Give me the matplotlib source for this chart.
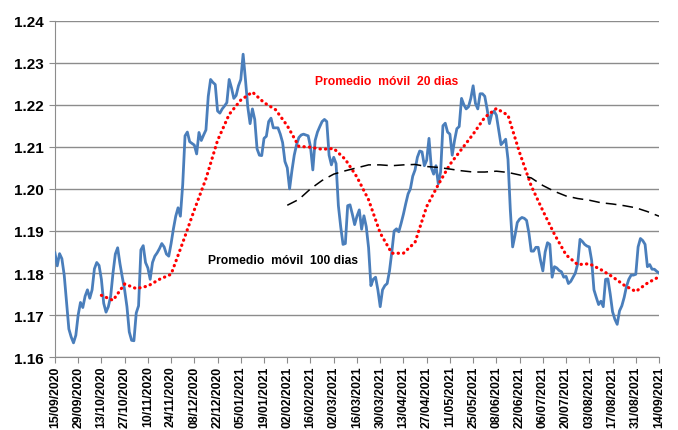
import numpy as np
import pandas as pd
import matplotlib
matplotlib.use("Agg")
import matplotlib.pyplot as plt

plt.rcParams["font.family"] = ["Liberation Sans", "DejaVu Sans"]

# trading days shown on the chart
start, end = "2020-09-15", "2021-09-14"

# daily close, one row per two weeks (10 sessions)
price = [
    1.1848, 1.1817, 1.1846, 1.1834, 1.1795, 1.1730, 1.1667, 1.1648, 1.1634, 1.1652,
    1.1700, 1.1730, 1.1718, 1.1745, 1.1760, 1.1740, 1.1760, 1.1810, 1.1825, 1.1818,
    1.1785, 1.1728, 1.1707, 1.1720, 1.1745, 1.1800, 1.1845, 1.1860, 1.1822, 1.1790,
    1.1760, 1.1720, 1.1660, 1.1640, 1.1639, 1.1705, 1.1722, 1.1855, 1.1865, 1.1825,
    1.1812, 1.1785, 1.1825, 1.1840, 1.1848, 1.1858, 1.1870, 1.1862, 1.1845, 1.1840,
    1.1870, 1.1905, 1.1935, 1.1955, 1.1935, 1.2010, 1.2126, 1.2135, 1.2112, 1.2108,
    1.2104, 1.2083, 1.2134, 1.2115, 1.2128, 1.2140, 1.2220, 1.2260, 1.2253, 1.2248,
    1.2185, 1.2180, 1.2190, 1.2197, 1.2205, 1.2260, 1.2240, 1.2215, 1.2222, 1.2245,
    1.2260, 1.2320, 1.2260, 1.2195, 1.2155, 1.2190, 1.2165, 1.2095, 1.2080, 1.2079,
    1.2120, 1.2125, 1.2160, 1.2168, 1.2145, 1.2145, 1.2145, 1.2130, 1.2110, 1.2065,
    1.2050, 1.2000, 1.2043, 1.2080, 1.2105, 1.2122, 1.2128, 1.2130, 1.2128, 1.2126,
    1.2100, 1.2045, 1.2115, 1.2135, 1.2148, 1.2160, 1.2165, 1.2160, 1.2080, 1.2057,
    1.2075, 1.2060, 1.1960, 1.1910, 1.1868, 1.1870, 1.1960, 1.1962, 1.1940, 1.1915,
    1.1935, 1.1950, 1.1904, 1.1936, 1.1910, 1.1860, 1.1770, 1.1785, 1.1790, 1.1760,
    1.1720, 1.1760, 1.1770, 1.1775, 1.1805, 1.1850, 1.1900, 1.1905, 1.1898, 1.1918,
    1.1940, 1.1965, 1.1988, 1.2000, 1.2030, 1.2045, 1.2075, 1.2090, 1.2088, 1.2055,
    1.2068, 1.2120, 1.2050, 1.2035, 1.2055, 1.2012, 1.2040, 1.2150, 1.2156, 1.2135,
    1.2130, 1.2080, 1.2115, 1.2143, 1.2148, 1.2215, 1.2200, 1.2190, 1.2195, 1.2215,
    1.2245, 1.2203, 1.2190, 1.2226, 1.2226, 1.2220, 1.2190, 1.2155, 1.2178, 1.2185,
    1.2175, 1.2140, 1.2105, 1.2111, 1.2118, 1.2070, 1.1950, 1.1862, 1.1889, 1.1920,
    1.1928, 1.1932, 1.1930, 1.1925, 1.1895, 1.1852, 1.1852, 1.1861, 1.1861, 1.1830,
    1.1805, 1.1850, 1.1872, 1.1868, 1.1790, 1.1815, 1.1812, 1.1806, 1.1803, 1.1790,
    1.1792, 1.1775, 1.1780, 1.1790, 1.1800, 1.1822, 1.1880, 1.1875, 1.1868, 1.1864,
    1.1862, 1.1830, 1.1760, 1.1742, 1.1725, 1.1733, 1.1720, 1.1785, 1.1786, 1.1750,
    1.1708, 1.1690, 1.1678, 1.1710, 1.1722, 1.1742, 1.1768, 1.1785, 1.1795, 1.1795,
    1.1797, 1.1862, 1.1882, 1.1877, 1.1868, 1.1815, 1.1820, 1.1809, 1.1809, 1.1804,
    1.1800,
]

# moving averages read weekly (every 5th session)
ma20_first = 20
ma20 = [
    1.1747, 1.1735, 1.1774, 1.1763, 1.1769, 1.1785, 1.1797, 1.1872, 1.1950, 1.2024,
    1.2115, 1.2177, 1.2211, 1.2230, 1.2205, 1.2188, 1.2150, 1.2101, 1.2099, 1.2094,
    1.2096, 1.2070, 1.2028, 1.1974, 1.1895, 1.1847, 1.1847, 1.1873, 1.1958, 1.2010,
    1.2058, 1.2094, 1.2130, 1.2170, 1.2191, 1.2175, 1.2086, 1.2007, 1.1948, 1.1892,
    1.1843, 1.1820, 1.1822, 1.1808, 1.1791, 1.1771, 1.1756, 1.1776, 1.1791,
]
ma100_first = 100
ma100 = [
    1.1961, 1.1975, 1.2000, 1.2020, 1.2035, 1.2043, 1.2050, 1.2057, 1.2057, 1.2055,
    1.2057, 1.2058, 1.2053, 1.2051, 1.2047, 1.2043, 1.2040, 1.2040, 1.2042, 1.2039,
    1.2033, 1.2026, 1.2008, 1.1994, 1.1983, 1.1977, 1.1973, 1.1967, 1.1964, 1.1960,
    1.1955, 1.1946, 1.1935,
]

days = pd.bdate_range(start, end)
pos = np.arange(len(days))

fig = plt.figure(figsize=(6.78, 4.31), dpi=100)
ax = fig.add_axes([0.081, 0.169, 0.891, 0.781])

ax.plot(pos, price, color="#4A7EBB", lw=2.0, zorder=3)
ma20_pos = pos[ma20_first::5][:len(ma20)]
ax.plot(ma20_pos, ma20, color="#FF0000", lw=2.3, ls=(0, (0.1, 1.6)),
        dash_capstyle="round", zorder=4)
ma100_pos = pos[ma100_first::5][:len(ma100)]
ax.plot(ma100_pos, ma100, color="black", lw=1.1, ls=(0, (7, 4)), zorder=4)

ax.set_xlim(0, len(days) - 1)
ax.set_ylim(1.16, 1.24)
ax.set_yticks(np.arange(1.16, 1.2401, 0.01))
ax.yaxis.set_major_formatter(matplotlib.ticker.FormatStrFormatter("%.2f"))
ax.grid(axis="y", color="#8C8C8C", lw=1.0)
ax.set_axisbelow(True)

ticks = pos[::10]
ax.set_xticks(ticks)
ax.set_xticklabels([d.strftime("%d/%m/%Y") for d in days[::10]], rotation=90,
                   fontsize=8.8, fontweight="bold")
for lab in ax.get_yticklabels():
    lab.set_fontsize(11)
    lab.set_fontweight("bold")

for side in ["top", "right"]:
    ax.spines[side].set_visible(False)
for side in ["left", "bottom"]:
    ax.spines[side].set_color("#8C8C8C")
ax.tick_params(axis="x", colors="#8C8C8C", length=4, pad=2, labelcolor="black")
ax.tick_params(axis="y", colors="#8C8C8C", length=4, pad=4, labelcolor="black")

ax.text(0.43, 0.821, "Promedio  móvil  20 dias", transform=ax.transAxes,
        color="#FF0000", fontsize=8.7, fontweight="bold", va="center")
ax.text(0.253, 0.289, "Promedio  móvil  100 dias", transform=ax.transAxes,
        color="black", fontsize=8.7, fontweight="bold", va="center")

fig.savefig("out.png", dpi=100)
